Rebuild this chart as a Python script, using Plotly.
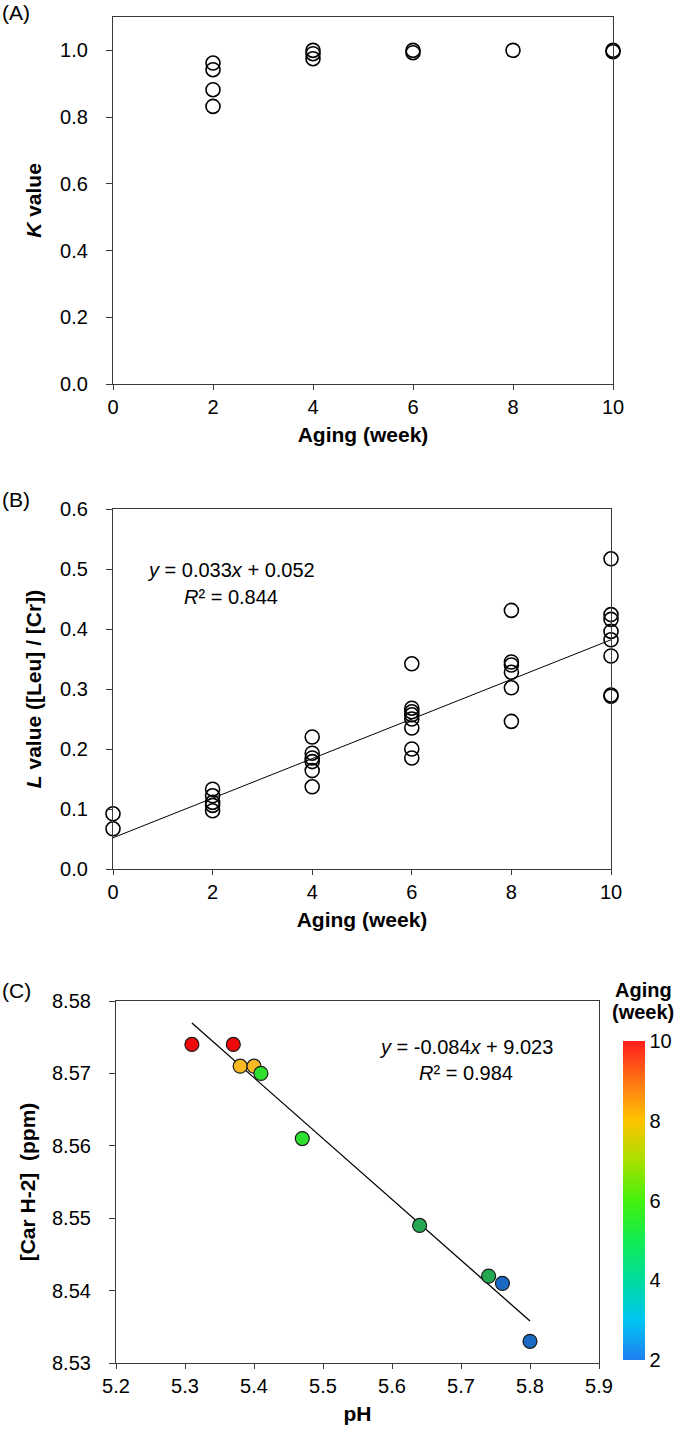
import plotly.graph_objects as go

# ---------------- data ----------------
# Panel A: K value vs aging
a_week = [2, 2, 2, 2, 4, 4, 4, 6, 6, 8, 10, 10]
a_k = [0.962, 0.942, 0.882, 0.832, 1.0, 0.99, 0.975, 1.0, 0.993, 1.0, 1.0, 0.996]

# Panel B: L value vs aging
b_week = [0, 0,
          2, 2, 2, 2, 2,
          4, 4, 4, 4, 4, 4,
          6, 6, 6, 6, 6, 6, 6, 6,
          8, 8, 8, 8, 8, 8,
          10, 10, 10, 10, 10, 10, 10, 10]
b_l = [0.092, 0.067,
       0.133, 0.122, 0.111, 0.106, 0.097,
       0.220, 0.193, 0.185, 0.179, 0.164, 0.137,
       0.342, 0.268, 0.262, 0.257, 0.250, 0.235, 0.200, 0.185,
       0.431, 0.345, 0.340, 0.328, 0.302, 0.246,
       0.517, 0.424, 0.416, 0.396, 0.382, 0.355, 0.290, 0.288]
b_slope, b_intercept = 0.033, 0.052
b_fit_x = [0, 10]

# Panel C: [Car H-2] vs pH
c_ph = [5.31, 5.37, 5.38, 5.40, 5.41, 5.47, 5.64, 5.74, 5.76, 5.80]
c_car = [8.574, 8.574, 8.571, 8.571, 8.570, 8.561, 8.549, 8.542, 8.541, 8.533]
c_week = [10, 10, 8, 8, 6, 6, 4, 4, 2, 2]
c_slope, c_intercept = -0.084, 9.023
c_fit_x = [5.31, 5.80]
cbar_ticks = [2, 4, 6, 8, 10]

# ---------------- style ----------------
W, H = 675, 1443
FONT = "Liberation Sans, Arial, sans-serif"
AX = "#3a3a3a"
week_colors = {10: "#ee0a0a", 8: "#f7b924", 6: "#2fe02f", 4: "#25a852", 2: "#1a6ac4"}
cbar_scale = [
    [0.0, "#1e7ff0"], [0.125, "#00c6f2"], [0.25, "#00dc9e"], [0.375, "#12ec52"],
    [0.5, "#44f20c"], [0.625, "#a8e000"], [0.75, "#ffc400"], [0.875, "#ff7414"],
    [1.0, "#ff1c1c"],
]


def px_dom_x(x0, x1):
    return [x0 / W, x1 / W]


def px_dom_y(top, bottom):
    return [1 - bottom / H, 1 - top / H]


fig = go.Figure()

open_marker = dict(symbol="circle-open", size=14, color="black", line=dict(width=1.6, color="black"))

fig.add_trace(go.Scatter(x=a_week, y=a_k, mode="markers", marker=open_marker,
                         xaxis="x", yaxis="y", cliponaxis=False, showlegend=False))

b_fit_y = [b_slope * v + b_intercept for v in b_fit_x]
fig.add_trace(go.Scatter(x=b_fit_x, y=b_fit_y, mode="lines", line=dict(color="black", width=1),
                         xaxis="x2", yaxis="y2", showlegend=False))
fig.add_trace(go.Scatter(x=b_week, y=b_l, mode="markers", marker=open_marker,
                         xaxis="x2", yaxis="y2", cliponaxis=False, showlegend=False))

c_fit_y = [c_slope * v + c_intercept for v in c_fit_x]
fig.add_trace(go.Scatter(x=c_fit_x, y=c_fit_y, mode="lines", line=dict(color="black", width=1.3),
                         xaxis="x3", yaxis="y3", showlegend=False))
fig.add_trace(go.Scatter(x=c_ph, y=c_car, mode="markers",
                         marker=dict(size=14, color=[week_colors[w] for w in c_week],
                                     line=dict(width=1.2, color="#1a1a1a")),
                         xaxis="x3", yaxis="y3", cliponaxis=False, showlegend=False))
# colorbar carrier
fig.add_trace(go.Scatter(x=[None], y=[None], mode="markers", xaxis="x3", yaxis="y3",
                         showlegend=False, hoverinfo="skip",
                         marker=dict(color=[cbar_ticks[0]], cmin=min(cbar_ticks), cmax=max(cbar_ticks),
                                     colorscale=cbar_scale, showscale=True,
                                     colorbar=dict(x=623 / W, xanchor="left", y=1 - 1041 / H, yanchor="top",
                                                   lenmode="pixels", len=319, thickness=22,
                                                   thicknessmode="pixels", outlinewidth=0,
                                                   tickvals=cbar_ticks, ticks="",
                                                   tickfont=dict(size=20, color="black", family=FONT),
                                                   ypad=0, xpad=0))))

tickfont = dict(size=20, color="black", family=FONT)
titlefont = dict(size=21, color="black", family=FONT)


def xaxis(dom, rng, dtick, anchor, title):
    return dict(domain=dom, range=rng, dtick=dtick, tick0=rng[0], anchor=anchor,
                showline=True, linecolor=AX, linewidth=1.2, mirror=True,
                ticks="outside", ticklen=5, tickcolor=AX, tickwidth=1.2,
                showgrid=False, zeroline=False, tickfont=tickfont,
                ticklabelstandoff=0,
                title=dict(text=title, font=titlefont, standoff=10))


def yaxis(dom, rng, dtick, anchor, title, fmt, standoff):
    return dict(domain=dom, range=rng, dtick=dtick, tick0=rng[0], anchor=anchor,
                showline=True, linecolor=AX, linewidth=1.2, mirror=True,
                ticks="outside", ticklen=6, tickcolor=AX, tickwidth=1.2,
                showgrid=False, zeroline=False, tickfont=tickfont, tickformat=fmt,
                ticklabelstandoff=14,
                title=dict(text=title, font=titlefont, standoff=standoff))


fig.update_layout(
    width=W, height=H, margin=dict(l=0, r=0, t=0, b=0, autoexpand=False),
    paper_bgcolor="white", plot_bgcolor="white", font=dict(family=FONT, color="black"),
    xaxis=xaxis(px_dom_x(113, 613), [0, 10], 2, "y", "<b>Aging (week)</b>"),
    yaxis=yaxis(px_dom_y(17, 384), [0, 1.1], 0.2, "x", "<b><i>K</i> value</b>", ".1f", 12),
    xaxis2=xaxis(px_dom_x(113, 611), [0, 10], 2, "y2", "<b>Aging (week)</b>"),
    yaxis2=yaxis(px_dom_y(509, 869), [0, 0.6], 0.1, "x2", "<b><i>L</i> value ([Leu] / [Cr])</b>", ".1f", 12),
    xaxis3=xaxis(px_dom_x(116, 599), [5.2, 5.9], 0.1, "y3", "<b>pH</b>"),
    yaxis3=yaxis(px_dom_y(1001, 1363), [8.53, 8.58], 0.01, "x3", "<b>[Car H-2]  (ppm)</b>", ".2f", 10),
)

ann = []


def text(x, y, s, size=20, xanchor="center"):
    ann.append(dict(x=x / W, y=1 - y / H, xref="paper", yref="paper", text=s, showarrow=False,
                    xanchor=xanchor, yanchor="middle", font=dict(size=size, family=FONT, color="black")))


text(0, 12, "(A)", 21, xanchor="left")
text(0, 499, "(B)", 21, xanchor="left")
text(0, 990, "(C)", 21, xanchor="left")
text(231, 570, "<i>y</i> = 0.033<i>x</i> + 0.052")
text(231, 597, "<i>R</i>² = 0.844")
text(466, 1047, "<i>y</i> = -0.084<i>x</i> + 9.023")
text(466, 1073, "<i>R</i>² = 0.984")
text(643, 990, "<b>Aging</b>", 20)
text(643, 1012, "<b>(week)</b>", 20)
fig.update_layout(annotations=ann)

fig.write_html(
    "out.html",
    config={"displayModeBar": False},
    post_script="document.body.style.margin='0px';document.body.style.overflow='hidden';",
)
